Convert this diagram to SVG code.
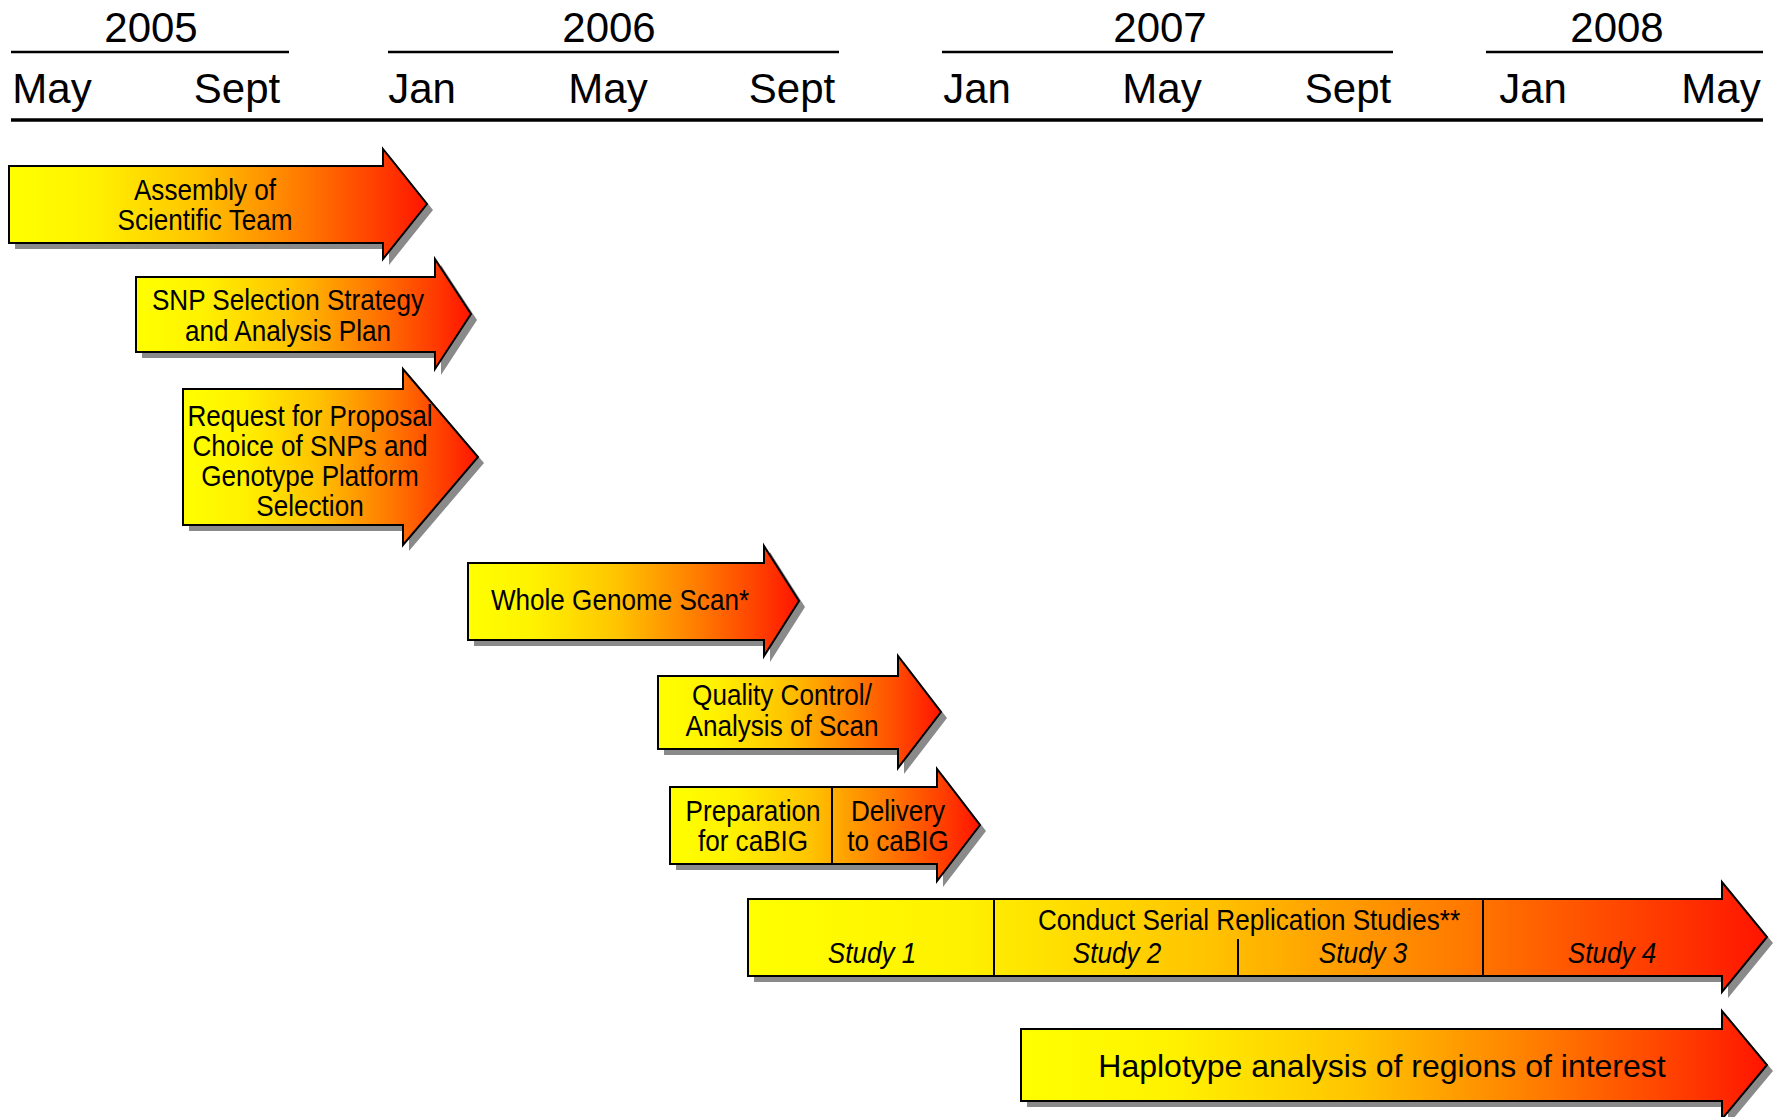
<svg xmlns="http://www.w3.org/2000/svg" width="1775" height="1117" viewBox="0 0 1775 1117">
<defs>
<linearGradient id="grad" x1="0" y1="0" x2="1" y2="0">
<stop offset="0" stop-color="#FFFF00"/>
<stop offset="0.2" stop-color="#FFF200"/>
<stop offset="0.45" stop-color="#FFC400"/>
<stop offset="0.7" stop-color="#FF7A00"/>
<stop offset="0.9" stop-color="#FF3800"/>
<stop offset="1" stop-color="#FF1400"/>
</linearGradient>
<style>
.hdr{font-family:"Liberation Sans",Arial,sans-serif;font-size:42px;fill:#000;text-anchor:middle}
.yl{stroke:#000;stroke-width:2.5;fill:none}
.bl{stroke:#000;stroke-width:3.5;fill:none}
.sh{fill:#8a8a8a;stroke:none}
.ar{fill:url(#grad);stroke:#000;stroke-width:2;stroke-linejoin:miter}
.dv{stroke:#000;stroke-width:2;fill:none}
.t{font-family:"Liberation Sans",Arial,sans-serif;font-size:30px;fill:#000;text-anchor:middle}
.it{font-style:italic}
.big{font-family:"Liberation Sans",Arial,sans-serif;font-size:32px;fill:#000;text-anchor:middle}
</style>
</defs>
<rect width="1775" height="1117" fill="#fff"/>
<g id="timeline">
<text class="hdr" x="151" y="42">2005</text>
<text class="hdr" x="609" y="42">2006</text>
<text class="hdr" x="1160" y="42">2007</text>
<text class="hdr" x="1617" y="42">2008</text>
<line class="yl" x1="11" y1="52" x2="289" y2="52"/>
<line class="yl" x1="388" y1="52" x2="839" y2="52"/>
<line class="yl" x1="942" y1="52" x2="1393" y2="52"/>
<line class="yl" x1="1486" y1="52" x2="1763" y2="52"/>
<text class="hdr" x="52" y="103">May</text>
<text class="hdr" x="237" y="103">Sept</text>
<text class="hdr" x="422" y="103">Jan</text>
<text class="hdr" x="608" y="103">May</text>
<text class="hdr" x="792" y="103">Sept</text>
<text class="hdr" x="977" y="103">Jan</text>
<text class="hdr" x="1162" y="103">May</text>
<text class="hdr" x="1348" y="103">Sept</text>
<text class="hdr" x="1533" y="103">Jan</text>
<text class="hdr" x="1721" y="103">May</text>
<line class="bl" x1="11" y1="120" x2="1763" y2="120"/>
</g>
<g id="assembly">
<polygon class="sh" transform="translate(6,6)" points="9,166 383,166 383,149 427,204 383,259 383,243 9,243"/>
<polygon class="ar" points="9,166 383,166 383,149 427,204 383,259 383,243 9,243"/>
<text class="t" transform="translate(205,200) scale(0.87,1)"><tspan x="0">Assembly of</tspan><tspan x="0" dy="30">Scientific Team</tspan></text>
</g>
<g id="snp">
<polygon class="sh" transform="translate(6,6)" points="136,277 435,277 435,259 471,314 435,369 435,352 136,352"/>
<polygon class="ar" points="136,277 435,277 435,259 471,314 435,369 435,352 136,352"/>
<text class="t" transform="translate(288,310) scale(0.87,1)"><tspan x="0">SNP Selection Strategy</tspan><tspan x="0" dy="31">and Analysis Plan</tspan></text>
</g>
<g id="rfp">
<polygon class="sh" transform="translate(6,6)" points="183,389 403,389 403,369 478,457 403,545 403,525 183,525"/>
<polygon class="ar" points="183,389 403,389 403,369 478,457 403,545 403,525 183,525"/>
<text class="t" transform="translate(310,426) scale(0.87,1)"><tspan x="0">Request for Proposal</tspan><tspan x="0" dy="30">Choice of SNPs and</tspan><tspan x="0" dy="30">Genotype Platform</tspan><tspan x="0" dy="30">Selection</tspan></text>
</g>
<g id="gws">
<polygon class="sh" transform="translate(6,6)" points="468,563 764,563 764,546 799,601 764,656 764,640 468,640"/>
<polygon class="ar" points="468,563 764,563 764,546 799,601 764,656 764,640 468,640"/>
<text class="t" transform="translate(620,610) scale(0.87,1)">Whole Genome Scan*</text>
</g>
<g id="qc">
<polygon class="sh" transform="translate(6,6)" points="658,676 898,676 898,656 941,712 898,768 898,749 658,749"/>
<polygon class="ar" points="658,676 898,676 898,656 941,712 898,768 898,749 658,749"/>
<text class="t" transform="translate(782,705) scale(0.87,1)"><tspan x="0">Quality Control/</tspan><tspan x="0" dy="31">Analysis of Scan</tspan></text>
</g>
<g id="cabig">
<polygon class="sh" transform="translate(6,6)" points="670,787 937,787 937,769 980,825 937,881 937,864 670,864"/>
<polygon class="ar" points="670,787 937,787 937,769 980,825 937,881 937,864 670,864"/>
<line class="dv" x1="832" y1="787" x2="832" y2="864"/>
<text class="t" transform="translate(753,821) scale(0.87,1)"><tspan x="0">Preparation</tspan><tspan x="0" dy="30">for caBIG</tspan></text>
<text class="t" transform="translate(898,821) scale(0.87,1)"><tspan x="0">Delivery</tspan><tspan x="0" dy="30">to caBIG</tspan></text>
</g>
<g id="replication">
<polygon class="sh" transform="translate(6,6)" points="748,899 1722,899 1722,882 1767,937 1722,992 1722,976 748,976"/>
<polygon class="ar" points="748,899 1722,899 1722,882 1767,937 1722,992 1722,976 748,976"/>
<line class="dv" x1="994" y1="899" x2="994" y2="976"/>
<line class="dv" x1="1238" y1="939" x2="1238" y2="976"/>
<line class="dv" x1="1483" y1="899" x2="1483" y2="976"/>
<text class="t" transform="translate(1249,930) scale(0.87,1)">Conduct Serial Replication Studies**</text>
<text class="t it" transform="translate(872,963) scale(0.87,1)">Study 1</text>
<text class="t it" transform="translate(1117,963) scale(0.87,1)">Study 2</text>
<text class="t it" transform="translate(1363,963) scale(0.87,1)">Study 3</text>
<text class="t it" transform="translate(1612,963) scale(0.87,1)">Study 4</text>
</g>
<g id="haplotype">
<polygon class="sh" transform="translate(6,6)" points="1021,1029 1722,1029 1722,1011 1767,1065 1722,1119 1722,1101 1021,1101"/>
<polygon class="ar" points="1021,1029 1722,1029 1722,1011 1767,1065 1722,1119 1722,1101 1021,1101"/>
<text class="big" x="1382" y="1077">Haplotype analysis of regions of interest</text>
</g>
</svg>
